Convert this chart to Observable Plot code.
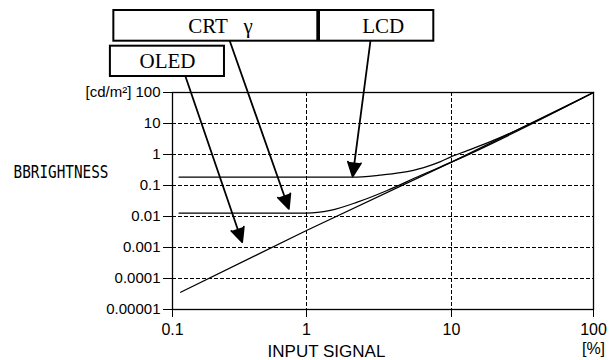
<!DOCTYPE html>
<html><head><meta charset="utf-8">
<script src="https://cdn.jsdelivr.net/npm/d3@7"></script>
<script src="https://cdn.jsdelivr.net/npm/@observablehq/plot@0.6"></script>
<style>body{margin:0;background:#fff}</style>
</head><body><div id="chart"></div>
<script>
// axis ticks & labels
const xTicks = [0.1, 1, 10, 100];
const xTickLabels = ["0.1", "1", "10", "100\n[%]"];
const yTicks = [0.00001, 0.0001, 0.001, 0.01, 0.1, 1, 10, 100];
const yTickLabels = ["0.00001", "0.0001", "0.001", "0.01", "0.1", "1", "10", "[cd/m\u00b2] 100"];
const xLabel = "INPUT SIGNAL";
const yLabel = "BBRIGHTNESS";

// series (input signal %, brightness cd/m2)
const oledX = [0.115, 1, 10, 100];
const oledY = [0.000036, 0.00353, 0.565, 100];
const crtX = [0.112, 1.0, 1.46, 2.24, 3.6, 6.11, 10, 100];
const crtY = [0.01277, 0.01277, 0.0157, 0.029, 0.069, 0.21, 0.565, 100];
const lcdX = [0.112, 2.07, 3.2, 4.45, 6.44, 8.4, 10, 12.9, 18.8, 100];
const lcdY = [0.185, 0.185, 0.215, 0.26, 0.38, 0.59, 0.855, 1.33, 2.6, 100];

// annotations (data units)
const annLabels = ["CRT\u2002 \u03b3", "LCD", "OLED"];
const annBoxX1 = [0.0365, 1.229, 0.0344];
const annBoxX2 = [1.197, 7.55, 0.2443];
const annBoxY1 = [4519, 4519, 328];
const annBoxY2 = [44150, 44150, 3118];
const annTextX = [0.228, 3.38, 0.0918];
const annTextY = [14060, 14060, 1007];
const arrowFromX = [0.268, 2.76, 0.125];
const arrowFromY = [4519, 4519, 328];
const arrowToX = [0.738, 2.08, 0.331];
const arrowToY = [0.0177, 0.195, 0.00148];

const toRows = (xs, ys) => xs.map((x, i) => ({x, y: ys[i]}));
const ann = annLabels.map((label, i) => ({
  label, x1: annBoxX1[i], x2: annBoxX2[i], y1: annBoxY1[i], y2: annBoxY2[i],
  tx: annTextX[i], ty: annTextY[i],
  ax1: arrowFromX[i], ay1: arrowFromY[i], ax2: arrowToX[i], ay2: arrowToY[i]
}));

const chart = Plot.plot({
  width: 616,
  height: 360,
  marginLeft: 172,
  marginRight: 23,
  marginTop: 92,
  marginBottom: 51,
  style: {fontFamily: "Liberation Sans", fontSize: "15px", color: "black", background: "white"},
  x: {type: "log", domain: xTicks, range: [172, 306, 451, 593]},
  y: {type: "log", domain: [yTicks[0], yTicks[yTicks.length - 1]]},
  marks: [
    Plot.ruleY(yTicks.slice(1, -1), {stroke: "black", strokeWidth: 1, strokeDasharray: "4,2"}),
    Plot.ruleX(xTicks.slice(1, -1), {stroke: "black", strokeWidth: 1, strokeDasharray: "4,2"}),
    Plot.axisX({ticks: xTicks, tickFormat: d => xTickLabels[xTicks.indexOf(d)], tickSize: 8,
      tickPadding: 4, fontSize: 16, lineHeight: 1.2, label: null, stroke: "black", fill: "black"}),
    Plot.axisY({ticks: yTicks, tickFormat: d => yTickLabels[yTicks.indexOf(d)], tickSize: 9,
      tickPadding: 3, fontSize: 15, label: null, stroke: "black", fill: "black"}),
    Plot.frame({stroke: "black", strokeWidth: 1.3}),
    Plot.line(toRows(oledX, oledY), {x: "x", y: "y", stroke: "black", strokeWidth: 1.3}),
    Plot.line(toRows(crtX, crtY), {x: "x", y: "y", stroke: "black", strokeWidth: 1.3, curve: "monotone-x"}),
    Plot.line(toRows(lcdX, lcdY), {x: "x", y: "y", stroke: "black", strokeWidth: 1.3, curve: "monotone-x"}),
    Plot.rect(ann, {x1: "x1", x2: "x2", y1: "y1", y2: "y2", fill: "white", stroke: "black", strokeWidth: 2}),
    Plot.text(ann, {x: "tx", y: "ty", text: "label", fontFamily: "Liberation Serif", fontSize: 21, fill: "black"}),
    Plot.arrow(ann, {x1: "ax1", y1: "ay1", x2: "ax2", y2: "ay2", stroke: "black", fill: "black",
      strokeWidth: 1.8, headLength: 13, headAngle: 50}),
    Plot.text([yLabel], {frameAnchor: "left", textAnchor: "start", dx: -159, dy: -28.5,
      fontFamily: "DejaVu Sans Mono", fontSize: 17, fill: "black", className: "ylab"}),
    Plot.text([xLabel], {frameAnchor: "bottom", dx: -56.5, dy: 47, fontSize: 17, fill: "black"})
  ]
});
d3.select(chart).selectAll(".ylab text").attr("textLength", 95).attr("lengthAdjust", "spacingAndGlyphs");
document.getElementById("chart").appendChild(chart);
</script>
</body></html>
